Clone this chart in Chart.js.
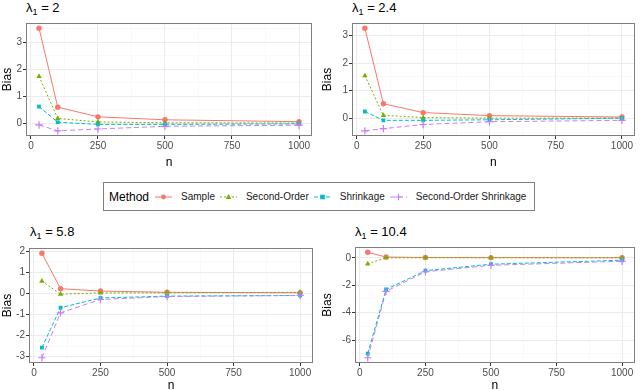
<!DOCTYPE html>
<html>
<head>
<meta charset="utf-8">
<script src="https://cdn.jsdelivr.net/npm/chart.js@4.4.1/dist/chart.umd.min.js"></script>
<style>
    body {
        margin: 0;
        width: 640px;
        height: 390px;
        overflow: hidden;
        background: #fff;
        position: relative;
        font-family: "Liberation Sans", Arial, sans-serif;
    }
    canvas.panel { position: absolute; }
    .ptitle {
        position: absolute;
        font-size: 13px;
        font-weight: normal;
        line-height: 15px;
        color: #000;
        white-space: nowrap;
    }
    .ptitle sub { font-size: 9px; vertical-align: -3px; line-height: 0; }
    #legend {
        position: absolute;
        left: 103px;
        top: 182px;
        width: 430px;
        height: 27px;
        border: 1px solid #7f7f7f;
        display: flex;
        align-items: center;
        font-size: 10px;
        color: #1a1a1a;
    }
    #legend .head { font-size: 12px; color: #000; margin-left: 5px; margin-right: 6px; }
    #legend svg { display: block; }
    #legend .lbl { margin-left: 9px; margin-right: 5px; white-space: nowrap; }
</style>
</head>
<body>

<div class="ptitle" style="left:26px;top:0px">λ<sub>1</sub> = <span class="lam"></span></div>
<div class="ptitle" style="left:352px;top:0px">λ<sub>1</sub> = <span class="lam"></span></div>
<div class="ptitle" style="left:30px;top:224px">λ<sub>1</sub> = <span class="lam"></span></div>
<div class="ptitle" style="left:355px;top:224px">λ<sub>1</sub> = <span class="lam"></span></div>

<canvas id="c1" class="panel" width="320" height="175" style="left:0;top:0"></canvas>
<canvas id="c2" class="panel" width="320" height="175" style="left:320px;top:0"></canvas>
<canvas id="c3" class="panel" width="320" height="180" style="left:0;top:215px"></canvas>
<canvas id="c4" class="panel" width="320" height="180" style="left:320px;top:215px"></canvas>

<div id="legend"><span class="head">Method</span></div>

<script>
// sample sizes on the x axis
const nSizes = [30, 100, 250, 500, 1000];
const methods = ['Sample', 'Second-Order', 'Shrinkage', 'Second-Order Shrinkage'];
const lambdas = ['2', '2.4', '5.8', '10.4'];

// bias per method (same order as methods), one array per panel
const biasL2 = [
    [3.52, 0.59, 0.23, 0.12, 0.05],
    [1.73, 0.17, 0.04, 0.01, 0.00],
    [0.61, 0.03, -0.05, -0.05, -0.03],
    [-0.07, -0.29, -0.22, -0.12, -0.08]
];
const biasL24 = [
    [3.26, 0.53, 0.21, 0.10, 0.05],
    [1.54, 0.11, 0.03, 0.01, 0.01],
    [0.25, -0.07, -0.07, -0.05, 0.01],
    [-0.45, -0.37, -0.22, -0.12, -0.07]
];
const biasL58 = [
    [1.90, 0.22, 0.11, 0.05, 0.03],
    [0.58, -0.04, 0.02, 0.03, 0.05],
    [-2.57, -0.68, -0.22, -0.13, -0.10],
    [-3.05, -0.92, -0.29, -0.15, -0.10]
];
const biasL104 = [
    [0.40, 0.05, 0.02, 0.01, 0.00],
    [-0.45, 0.00, 0.00, 0.00, 0.00],
    [-6.99, -2.31, -0.94, -0.47, -0.18],
    [-7.29, -2.45, -1.02, -0.55, -0.25]
];
const yMajorSteps = [1, 1, 1, 2];

const colors = ['#F8766D', '#7CAE00', '#00BFC4', '#C77CFF'];
const shapes = ['circle', 'triangle', 'rect', 'cross'];
const dashes = [[], [2, 2], [4, 2], [5, 3]];
const radii = [2.7, 3.1, 2.7, 3.7];

// canvas placement and plot area (page pixels)
const layouts = [
    {id: 'c1', x: 0,   y: 0,   area: [26, 23, 312, 136], xh: 34},
    {id: 'c2', x: 320, y: 0,   area: [352, 23, 635, 136], xh: 34},
    {id: 'c3', x: 0,   y: 215, area: [29, 248, 313, 363], xh: 30},
    {id: 'c4', x: 320, y: 215, area: [355, 247, 635, 363], xh: 30}
];

const tickFont = {family: '"Liberation Sans", Arial, sans-serif', size: 10};
const titleFont = {family: '"Liberation Sans", Arial, sans-serif', size: 12};

function gridTicks(min, max, step) {
    const out = [];
    let v = Math.ceil(min / step - 1e-9) * step;
    for (; v <= max + 1e-9; v += step) {
        out.push({value: Math.round(v * 1e6) / 1e6});
    }
    return out;
}

function isMajor(v, step) {
    return Math.abs(v / step - Math.round(v / step)) < 1e-6;
}

const framePlugin = {
    id: 'frame',
    afterDraw(chart) {
        const a = chart.chartArea;
        const ctx = chart.ctx;
        ctx.save();
        ctx.strokeStyle = '#7f7f7f';
        ctx.lineWidth = 1;
        ctx.strokeRect(Math.round(a.left) + 0.5, Math.round(a.top) + 0.5,
            Math.round(a.right - a.left) - 1, Math.round(a.bottom - a.top) - 1);
        ctx.restore();
    }
};

document.querySelectorAll('.lam').forEach((el, i) => el.textContent = lambdas[i]);

const allBias = [biasL2, biasL24, biasL58, biasL104];

allBias.forEach((bias, p) => {
    const L = layouts[p];
    const canvas = document.getElementById(L.id);
    const H = canvas.height;
    const flat = bias.flat();
    const yLo = Math.min(...flat), yHi = Math.max(...flat);
    const yPad = (yHi - yLo) * 0.05;
    const xPad = (nSizes[nSizes.length - 1] - nSizes[0]) * 0.05;
    const xMin = nSizes[0] - xPad, xMax = nSizes[nSizes.length - 1] + xPad;
    const yMin = yLo - yPad, yMax = yHi + yPad;
    const yStep = yMajorSteps[p];

    const datasets = methods.map((m, i) => ({
        label: m,
        data: nSizes.map((n, j) => ({x: n, y: bias[i][j]})),
        borderColor: colors[i],
        backgroundColor: colors[i],
        borderWidth: 1,
        borderDash: dashes[i],
        pointStyle: shapes[i],
        pointRadius: radii[i],
        pointBorderWidth: shapes[i] === 'cross' ? 1.2 : 0,
        pointBackgroundColor: colors[i],
        pointBorderColor: colors[i],
        tension: 0,
        order: methods.length - 1 - i
    }));

    new Chart(canvas, {
        type: 'line',
        data: {datasets: datasets},
        options: {
            responsive: false,
            animation: false,
            events: [],
            layout: {
                padding: {
                    left: 0,
                    top: L.area[1] - L.y,
                    right: L.x + 320 - L.area[2],
                    bottom: H - (L.area[3] - L.y) - L.xh
                }
            },
            plugins: {legend: {display: false}, tooltip: {enabled: false}},
            scales: {
                x: {
                    type: 'linear',
                    min: xMin,
                    max: xMax,
                    afterBuildTicks: s => { s.ticks = gridTicks(xMin, xMax, 125); },
                    afterFit: s => { s.height = L.xh; },
                    ticks: {
                        autoSkip: false,
                        maxRotation: 0,
                        padding: 1,
                        color: '#4d4d4d',
                        font: tickFont,
                        callback: v => isMajor(v, 250) ? String(v) : ''
                    },
                    grid: {
                        color: c => isMajor(c.tick.value, 250) ? '#ebebeb' : '#f5f5f5',
                        lineWidth: c => isMajor(c.tick.value, 250) ? 1 : 0.6,
                        tickColor: c => isMajor(c.tick.value, 250) ? '#333333' : 'rgba(0,0,0,0)',
                        tickLength: 3
                    },
                    border: {display: false},
                    title: {display: true, text: 'n', color: '#000', font: titleFont, padding: 0}
                },
                y: {
                    type: 'linear',
                    min: yMin,
                    max: yMax,
                    afterBuildTicks: s => { s.ticks = gridTicks(yMin, yMax, yStep / 2); },
                    afterFit: s => { s.width = L.area[0] - L.x; },
                    ticks: {
                        autoSkip: false,
                        padding: 1,
                        color: '#4d4d4d',
                        font: tickFont,
                        callback: v => isMajor(v, yStep) ? String(v) : ''
                    },
                    grid: {
                        color: c => isMajor(c.tick.value, yStep) ? '#ebebeb' : '#f5f5f5',
                        lineWidth: c => isMajor(c.tick.value, yStep) ? 1 : 0.6,
                        tickColor: c => isMajor(c.tick.value, yStep) ? '#333333' : 'rgba(0,0,0,0)',
                        tickLength: 3
                    },
                    border: {display: false},
                    title: {display: true, text: 'Bias', color: '#000', font: titleFont, padding: 0}
                }
            }
        },
        plugins: [framePlugin]
    });
});

// shared legend
const legend = document.getElementById('legend');
const NS = 'http://www.w3.org/2000/svg';
methods.forEach((m, i) => {
    const svg = document.createElementNS(NS, 'svg');
    svg.setAttribute('width', 17);
    svg.setAttribute('height', 12);
    const line = document.createElementNS(NS, 'line');
    line.setAttribute('x1', 0); line.setAttribute('x2', 17);
    line.setAttribute('y1', 6); line.setAttribute('y2', 6);
    line.setAttribute('stroke', colors[i]);
    line.setAttribute('stroke-width', 1);
    if (dashes[i].length) line.setAttribute('stroke-dasharray', dashes[i].join(' '));
    svg.appendChild(line);
    let mk;
    if (shapes[i] === 'circle') {
        mk = document.createElementNS(NS, 'circle');
        mk.setAttribute('cx', 8.5); mk.setAttribute('cy', 6); mk.setAttribute('r', 2.4);
        mk.setAttribute('fill', colors[i]);
    } else if (shapes[i] === 'triangle') {
        mk = document.createElementNS(NS, 'polygon');
        mk.setAttribute('points', '8.5,3 11.3,8 5.7,8');
        mk.setAttribute('fill', colors[i]);
    } else if (shapes[i] === 'rect') {
        mk = document.createElementNS(NS, 'rect');
        mk.setAttribute('x', 6.2); mk.setAttribute('y', 3.7);
        mk.setAttribute('width', 4.6); mk.setAttribute('height', 4.6);
        mk.setAttribute('fill', colors[i]);
    } else {
        mk = document.createElementNS(NS, 'path');
        mk.setAttribute('d', 'M8.5 2.8 V9.2 M5.3 6 H11.7');
        mk.setAttribute('stroke', colors[i]);
        mk.setAttribute('stroke-width', 1.1);
    }
    svg.appendChild(mk);
    legend.appendChild(svg);
    const lbl = document.createElement('span');
    lbl.className = 'lbl';
    lbl.textContent = m;
    legend.appendChild(lbl);
});
</script>
</body>
</html>
